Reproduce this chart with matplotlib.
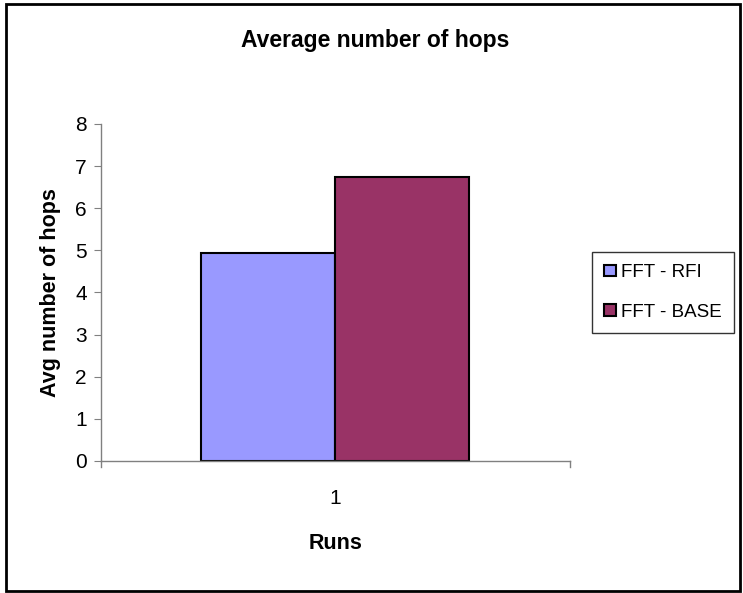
import matplotlib.pyplot as plt
from matplotlib.patches import Rectangle

plt.rcParams['font.family'] = ['Liberation Sans', 'DejaVu Sans']

runs = [1]
series = ['FFT - RFI', 'FFT - BASE']
rfi_hops = [4.94]
base_hops = [6.74]
colors = ['#9999ff', '#993366']

fig = plt.figure(figsize=(7.43, 5.93), dpi=100)
ax = fig.add_axes([0.1353, 0.2226, 0.6317, 0.5684])

width = 0.285
ax.bar([r - width / 2 for r in runs], rfi_hops, width, color=colors[0],
       edgecolor='black', linewidth=1.5, label=series[0])
ax.bar([r + width / 2 for r in runs], base_hops, width, color=colors[1],
       edgecolor='black', linewidth=1.5, label=series[1])

ax.set_xlim(0.5, 1.5)
ax.set_ylim(0, 8)
ax.set_yticks(range(0, 9))
ax.set_xticks(runs)
ax.tick_params(axis='y', direction='out', length=5, color='#808080', labelsize=15, pad=5)
ax.tick_params(axis='x', length=0, labelsize=15, pad=20)
# category boundary ticks on the x axis
for xb in (0.5, 1.5):
    ax.plot([xb, xb], [0, -0.15], color='#808080', lw=1, clip_on=False)

for side in ('top', 'right'):
    ax.spines[side].set_visible(False)
for side in ('left', 'bottom'):
    ax.spines[side].set_color('#808080')
    ax.spines[side].set_linewidth(1)

ax.set_xlabel('Runs', fontsize=15.5, fontweight='bold', labelpad=18)
ax.set_ylabel('Avg number of hops', fontsize=15.5, fontweight='bold', labelpad=10)
fig.text(0.505, 0.931, 'Average number of hops', ha='center', va='center',
         fontsize=16.5, fontweight='bold')

leg = fig.legend(loc='center left', bbox_to_anchor=(0.797, 0.507), fontsize=13.5,
                 frameon=True, fancybox=False, edgecolor='black', handlelength=0.6,
                 handleheight=0.6, handletextpad=0.3, labelspacing=1.2,
                 borderpad=0.65, borderaxespad=0)
leg.get_frame().set_linewidth(1)

fig.patches.append(Rectangle((0.008, 0.004), 0.988, 0.99, transform=fig.transFigure,
                             fill=False, edgecolor='black', linewidth=2))

fig.savefig('out.png', dpi=100)
